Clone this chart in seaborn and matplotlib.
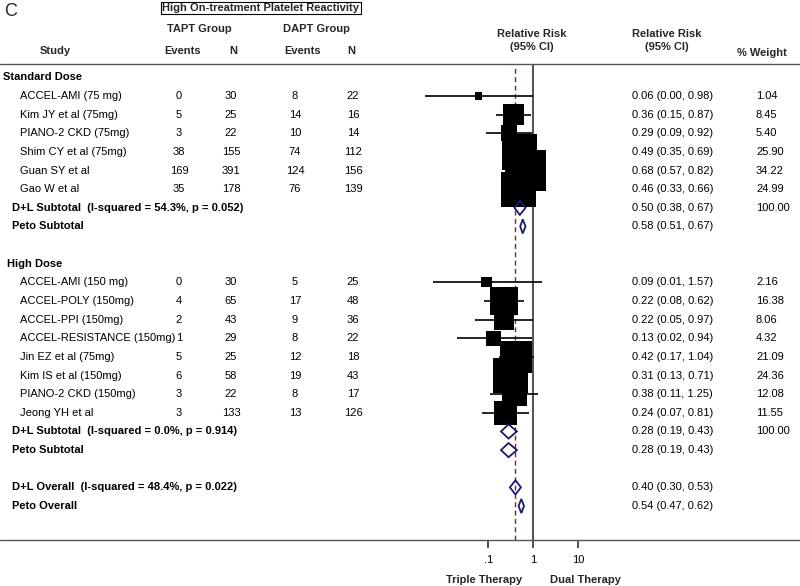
import numpy as np
import pandas as pd
import matplotlib
matplotlib.use("Agg")
import matplotlib.pyplot as plt
from matplotlib.transforms import blended_transform_factory
import seaborn as sns

# Daten - Standard Dose
std_names = ["ACCEL-AMI (75 mg)", "Kim JY et al (75mg)", "PIANO-2 CKD (75mg)",
             "Shim CY et al (75mg)", "Guan SY et al", "Gao W et al"]
std_tapt_ev = [0, 5, 3, 38, 169, 35]
std_tapt_n = [30, 25, 22, 155, 391, 178]
std_dapt_ev = [8, 14, 10, 74, 124, 76]
std_dapt_n = [22, 16, 14, 112, 156, 139]
std_rr = [0.06, 0.36, 0.29, 0.49, 0.68, 0.46]
std_lo = [0.0038, 0.15, 0.09, 0.35, 0.57, 0.33]
std_hi = [0.98, 0.87, 0.92, 0.69, 0.82, 0.66]
std_w = [1.04, 8.45, 5.40, 25.90, 34.22, 24.99]

# Daten - High Dose
high_names = ["ACCEL-AMI (150 mg)", "ACCEL-POLY (150mg)", "ACCEL-PPI (150mg)",
              "ACCEL-RESISTANCE (150mg)", "Jin EZ et al (75mg)", "Kim IS et al (150mg)",
              "PIANO-2 CKD (150mg)", "Jeong YH et al"]
high_tapt_ev = [0, 4, 2, 1, 5, 6, 3, 3]
high_tapt_n = [30, 65, 43, 29, 25, 58, 22, 133]
high_dapt_ev = [5, 17, 9, 8, 12, 19, 8, 13]
high_dapt_n = [25, 48, 36, 22, 18, 43, 17, 126]
high_rr = [0.09, 0.22, 0.22, 0.13, 0.42, 0.31, 0.38, 0.24]
high_lo = [0.0057, 0.08, 0.05, 0.02, 0.17, 0.13, 0.11, 0.07]
high_hi = [1.57, 0.62, 0.97, 0.94, 1.04, 0.71, 1.25, 0.81]
high_w = [2.16, 16.38, 8.06, 4.32, 21.09, 24.36, 12.08, 11.55]

# gepoolte Schaetzer
std_pooled = [("D+L Subtotal  (I-squared = 54.3%, p = 0.052)", 0.50, 0.38, 0.67, "100.00"),
              ("Peto Subtotal", 0.58, 0.51, 0.67, "")]
high_pooled = [("D+L Subtotal  (I-squared = 0.0%, p = 0.914)", 0.28, 0.19, 0.43, "100.00"),
               ("Peto Subtotal", 0.28, 0.19, 0.43, "")]
overall_pooled = [("D+L Overall  (I-squared = 48.4%, p = 0.022)", 0.40, 0.30, 0.53, ""),
                  ("Peto Overall", 0.54, 0.47, 0.62, "")]
overall_rr = 0.40

groups = [
    ("Standard Dose", pd.DataFrame({"name": std_names, "te": std_tapt_ev, "tn": std_tapt_n,
                                    "de": std_dapt_ev, "dn": std_dapt_n, "rr": std_rr,
                                    "lo": std_lo, "hi": std_hi, "w": std_w}), std_pooled),
    ("High Dose", pd.DataFrame({"name": high_names, "te": high_tapt_ev, "tn": high_tapt_n,
                                "de": high_dapt_ev, "dn": high_dapt_n, "rr": high_rr,
                                "lo": high_lo, "hi": high_hi, "w": high_w}), high_pooled),
]

# Zeilen aufbauen
study_rows = []
pooled_rows = []
header_rows = []
row = 0
for title, df, pooled in groups:
    header_rows.append((title, row))
    row += 1
    for _, r in df.iterrows():
        study_rows.append(dict(r, row=row))
        row += 1
    for p in pooled:
        pooled_rows.append((p, row))
        row += 1
    row += 1
for p in overall_pooled:
    pooled_rows.append((p, row))
    row += 1
studies = pd.DataFrame(study_rows)

sns.set_theme(style="white")
plt.rcParams["font.family"] = ["Liberation Sans", "DejaVu Sans"]
fs = 8

W, H = 800, 586
fig = plt.figure(figsize=(8, 5.86), dpi=100)

# Forest-Achse (log)
top_px, bot_px = 64, 540
row0_px, row_step = 77.3, 18.64
x_lo, x_hi = 0.003, 30
one_px, dec_px = 533.3, 44.8
left_px = one_px + np.log10(x_lo) * dec_px
width_px = (np.log10(x_hi) - np.log10(x_lo)) * dec_px
ax = fig.add_axes([left_px / W, 1 - bot_px / H, width_px / W, (bot_px - top_px) / H])
ax.set_xscale("log")
ax.set_xlim(x_lo, x_hi)
ax.set_ylim((bot_px - row0_px) / row_step, (top_px - row0_px) / row_step)
for s in ax.spines.values():
    s.set_visible(False)
ax.set_facecolor("none")
ax.set_yticks([])
ax.minorticks_off()
ax.set_xticks([0.1, 1, 10])
ax.set_xticklabels([".1", "1", "10"], fontsize=fs)
ax.tick_params(axis="x", direction="out", length=6, width=1.2, pad=5, colors="#333333",
               bottom=True, labelcolor="black")

ax.axvline(1, color="#333333", lw=1.2, zorder=1)
ax.axvline(overall_rr, ymax=0.994, color="#8c1c2c", lw=1, ls=(0, (3.5, 2.5)), zorder=1)

# Konfidenzintervalle + Quadrate
ax.hlines(studies["row"], studies["lo"], studies["hi"], color="black", lw=1.2, zorder=2)
sns.scatterplot(data=studies, x="rr", y="row", size="w", sizes=(0, 2540), size_norm=(0, 100),
                marker="s", color="black", linewidth=0, legend=False, ax=ax, zorder=3)
ax.set_xlabel("")
ax.set_ylabel("")

# Rauten
dh = 0.38
for (label, est, lo, hi, wt), r in pooled_rows:
    ax.fill([lo, est, hi, est, lo], [r, r - dh, r, r + dh, r], fill=False,
            edgecolor="#1a1a72", lw=1.3, zorder=4)

# Linien ueber die ganze Breite
tr = blended_transform_factory(fig.transFigure, ax.transData)
yl = ax.get_ylim()
for yy in yl:
    ax.plot([0, 1], [yy, yy], color="#555555", lw=1, transform=tr, clip_on=False)

# Tabellenspalten
def col(x, r, s, ha="left", bold=False):
    ax.text(x / W, r, s, transform=tr, ha=ha, va="center", fontsize=fs,
            fontweight="bold" if bold else "normal", color="black", clip_on=False)

for title, r in header_rows:
    col(3 if title == "Standard Dose" else 7, r, title, bold=True)
for _, s in studies.iterrows():
    r = s["row"]
    col(20, r, s["name"])
    col(179, r, f"{int(s['te'])}", ha="center")
    col(231, r, f"{int(s['tn'])}", ha="center")
    col(295, r, f"{int(s['de'])}", ha="center")
    col(353, r, f"{int(s['dn'])}", ha="center")
    col(632, r, f"{s['rr']:.2f} ({s['lo']:.2f}, {s['hi']:.2f})")
    col(756, r, f"{s['w']:.2f}")
for (label, est, lo, hi, wt), r in pooled_rows:
    col(12, r, label, bold=True)
    col(632, r, f"{est:.2f} ({lo:.2f}, {hi:.2f})")
    if wt:
        col(756, r, wt)

# Kopfzeilen
def ftext(x, y, s, ha="center", bold=True, size=fs, **kw):
    fig.text(x / W, 1 - y / H, s, ha=ha, va="center", fontsize=size,
             fontweight="bold" if bold else "normal", **kw)

ftext(4, 12, "C", ha="left", bold=False, size=13)
ftext(261, 8, "High On-treatment Platelet Reactivity",
      bbox=dict(boxstyle="square,pad=0.12", fc="white", ec="black", lw=0.8))
ftext(199, 29, "TAPT Group")
ftext(316, 29, "DAPT Group")
ftext(55, 51, "Study")
ftext(183, 51, "Events")
ftext(233, 51, "N")
ftext(303, 51, "Events")
ftext(351, 51, "N")
ftext(532, 34, "Relative Risk")
ftext(532, 47, "(95% CI)")
ftext(667, 34, "Relative Risk")
ftext(667, 47, "(95% CI)")
ftext(762, 53, "% Weight")
ftext(484, 580, "Triple Therapy")
ftext(585, 580, "Dual Therapy")

fig.savefig("out.png", dpi=100)
